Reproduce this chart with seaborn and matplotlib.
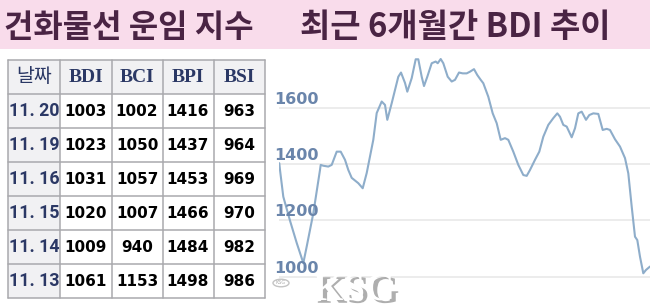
import matplotlib
matplotlib.use("Agg")
import matplotlib.pyplot as plt
import matplotlib.patheffects as pe
from matplotlib.patches import Rectangle, Circle
import matplotlib.transforms as mtransforms
import seaborn as sns
import pandas as pd

# ---------------- data ----------------
title_left = "건화물선 운임 지수"
title_right = "최근 6개월간 BDI 추이"

table_header = ["날짜", "BDI", "BCI", "BPI", "BSI"]
dates = ["11. 20", "11. 19", "11. 16", "11. 15", "11. 14", "11. 13"]
bdi_tab = [1003, 1023, 1031, 1020, 1009, 1061]
bci_tab = [1002, 1050, 1057, 1007, 940, 1153]
bpi_tab = [1416, 1437, 1453, 1466, 1484, 1498]
bsi_tab = [963, 964, 969, 970, 982, 986]

# BDI trend over the last 6 months (time position, index value)
t = [0.3, 1, 4.3, 11, 17.7, 22.7, 24.3, 27.7, 34.3, 41, 41.7, 44.3, 49.3, 52.7,
     57.7, 61.7, 66, 69.3, 72.7, 79.3, 83.7, 87.7, 94.3, 97.7, 102.7, 106, 108.3,
     112.7, 119.3, 122, 126, 128.3, 132.7, 136.7, 139.3, 142.7, 145, 148.3, 152.7,
     156.7, 158.7, 161.7, 164.3, 168.7, 172.7, 176, 180, 183.7, 187.7, 191, 195,
     198.3, 201.7, 204.3, 209.3, 213.7, 217.7, 221.7, 226, 229.3, 234.3, 239.3,
     244.3, 247.7, 251, 256, 260.3, 264.3, 269.3, 274.3, 278.3, 281, 284.3, 287.7,
     292.7, 296, 299.3, 302.7, 307, 310.3, 314.3, 319.3, 323.7, 327.7, 331, 336,
     341, 346, 349.3, 352.7, 356, 358.3, 361, 364.3, 367, 371]
bdi = [1403, 1379, 1284, 1199, 1120, 1066, 1048, 1107, 1225, 1379, 1397, 1394, 1391,
       1397, 1444, 1444, 1415, 1379, 1351, 1332, 1314, 1368, 1486, 1581, 1622, 1610,
       1557, 1616, 1710, 1725, 1688, 1657, 1705, 1772, 1772, 1710, 1677, 1710, 1758,
       1764, 1758, 1773, 1758, 1710, 1693, 1699, 1725, 1722, 1722, 1728, 1737, 1716,
       1699, 1687, 1639, 1580, 1545, 1486, 1492, 1486, 1444, 1397, 1361, 1358, 1379,
       1415, 1444, 1497, 1539, 1563, 1580, 1568, 1539, 1533, 1495, 1527, 1580, 1586,
       1557, 1574, 1580, 1578, 1521, 1525, 1521, 1488, 1462, 1421, 1367, 1249, 1142,
       1130, 1071, 1012, 1024, 1036]
y_ticks = [1000, 1200, 1400, 1600]

# ---------------- style ----------------
sns.set_theme(style="white")
plt.rcParams["font.family"] = ["Noto Sans CJK KR", "DejaVu Sans"]

W, H = 650, 308
fig = plt.figure(figsize=(W / 100, H / 100), dpi=100)
fig.patch.set_facecolor("white")


def fx(px):
    return px / W


def fy(py):
    return 1 - py / H


# banner
fig.patches.append(Rectangle((0, fy(49)), 1, 49 / H, transform=fig.transFigure,
                             facecolor="#f9dceb", edgecolor="none", zorder=0))
title_color = "#4a2444"
fig.text(fx(4), fy(28), title_left, fontsize=23, fontweight="black",
         color=title_color, ha="left", va="center",
         family=["Noto Sans CJK KR", "DejaVu Sans"])
fig.text(fx(300), fy(28), title_right, fontsize=23.7, fontweight="black",
         color=title_color, ha="left", va="center",
         family=["Noto Sans CJK KR", "DejaVu Sans"])

# ---------------- table ----------------
tx0, tx1, ty0, ty1 = 8, 265, 60, 298
axt = fig.add_axes([fx(tx0), fy(ty1), (tx1 - tx0) / W, (ty1 - ty0) / H])
col_edges = [0, 52, 103.5, 154.5, 205.5, 257]
nrows = len(dates) + 1
row_h = (ty1 - ty0) / nrows
axt.set_xlim(0, tx1 - tx0)
axt.set_ylim(ty1 - ty0, 0)
axt.axis("off")

gray_bg = "#f1f1f3"
border = "#a9a9ad"
navy = "#2b3865"
# header background
axt.add_patch(Rectangle((0, 0), col_edges[-1], row_h, facecolor=gray_bg, edgecolor="none"))
# first column background
axt.add_patch(Rectangle((0, row_h), col_edges[1], row_h * (nrows - 1),
                        facecolor=gray_bg, edgecolor="none"))
for xe in col_edges:
    axt.plot([xe, xe], [0, row_h * nrows], color=border, lw=1.1, clip_on=False)
for r in range(nrows + 1):
    axt.plot([0, col_edges[-1]], [r * row_h, r * row_h], color=border, lw=1.1, clip_on=False)

centers = [(col_edges[i] + col_edges[i + 1]) / 2 for i in range(len(col_edges) - 1)]
for i, h in enumerate(table_header):
    if i == 0:
        axt.text(centers[i], row_h / 2, h, ha="center", va="center", fontsize=14,
                 color=navy, family=["Noto Sans CJK KR", "DejaVu Sans"], fontweight="medium")
    else:
        axt.text(centers[i], row_h / 2 + 1, h, ha="center", va="center", fontsize=14,
                 color=navy, family=["Liberation Serif", "DejaVu Serif"], fontweight="bold")

columns = [bdi_tab, bci_tab, bpi_tab, bsi_tab]
for r, d in enumerate(dates):
    yc = row_h * (r + 1) + row_h / 2
    axt.text(centers[0], yc + 0.5, d, ha="center", va="center", fontsize=12.8,
             color=navy, family=["Roboto", "DejaVu Sans"], fontweight="bold")
    for c, col in enumerate(columns):
        axt.text(centers[c + 1], yc + 0.5, str(col[r]), ha="center", va="center",
                 fontsize=11, color="black", family=["DejaVu Sans"], fontweight="bold")

# ---------------- line chart ----------------
cx0, cx1, cy0, cy1 = 279, 650, 50, 308
ax = fig.add_axes([fx(cx0), fy(cy1), (cx1 - cx0) / W, (cy1 - cy0) / H])
ax.set_facecolor("none")
df = pd.DataFrame({"t": t, "BDI": bdi})
sns.lineplot(data=df, x="t", y="BDI", ax=ax, color="#8eadca", lw=1.5, sort=False)
ax.set_xlim(0, 371)
per_px = 200 / 56.3
ax.set_ylim(1000 - (cy1 - 276.7) * per_px, 1600 + (107.7 - cy0) * per_px)
ax.set_yticks(y_ticks)
ax.set_yticklabels([])
ax.set_xticks([])
ax.tick_params(length=0)
ax.set_xlabel("")
ax.set_ylabel("")
for s in ax.spines.values():
    s.set_visible(False)
ax.grid(axis="y", color="#ececec", lw=1.4)
ax.set_axisbelow(True)

lab_trans = mtransforms.offset_copy(ax.get_yaxis_transform(), fig=fig, x=0, y=4, units="dots")
for v in y_ticks:
    ax.text(-5 / 371, v, f"{v}", transform=lab_trans, ha="left", va="baseline",
            fontsize=11.5, color="#6a85ab", fontweight="bold", family=["DejaVu Sans"],
            clip_on=False, zorder=5)

# watermark
fig.text(fx(313), fy(300), "KSG", fontsize=28, fontweight="bold", color="white",
         family=["Liberation Serif", "DejaVu Serif"], ha="left", va="baseline", zorder=10,
         path_effects=[pe.SimplePatchShadow(offset=(3, -2), shadow_rgbFace="#9a9a9a", alpha=0.8),
                       pe.Normal()])
fig.patches.append(Circle((fx(281), fy(283)), 8 / W, transform=fig.transFigure,
                          facecolor="white", edgecolor="#c4c4c4", lw=1, zorder=10))
fig.text(fx(281), fy(283), "KSG", fontsize=3.5, color="#b0b0b0", ha="center", va="center",
         family=["DejaVu Sans"], zorder=11)

fig.savefig("out.png", dpi=100, facecolor="white")
